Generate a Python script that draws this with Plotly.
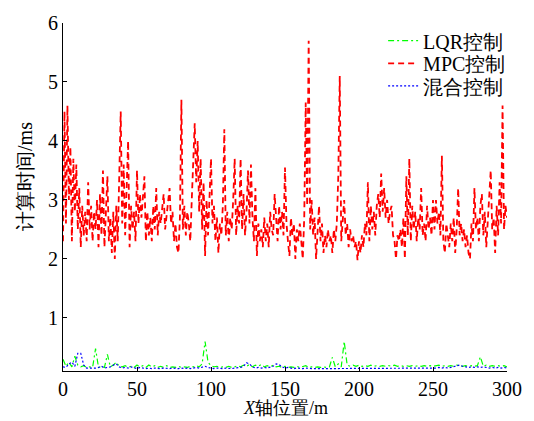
import plotly.graph_objects as go

# MPC control: x = 0..300 step 1 m
mpc_x = list(range(0, 301))
mpc_ms = [
    2.3, 4.5, 2.6, 4.6, 3.0, 3.9, 2.3, 3.7, 2.8, 3.6,
    2.5, 3.2, 2.2, 2.9, 2.4, 2.8, 2.3, 3.3, 2.5, 2.9,
    2.3, 2.8, 2.5, 3.0, 2.2, 3.1, 2.4, 3.5, 2.2, 2.9,
    3.4, 2.3, 2.7, 2.1, 2.8, 2.0, 2.9, 2.3, 3.2, 4.5,
    2.6, 3.6, 2.4, 3.1, 4.0, 2.2, 2.9, 2.5, 2.8, 2.3,
    3.5, 2.6, 3.1, 2.7, 3.0, 3.4, 2.3, 2.8, 2.4, 2.7,
    2.3, 2.9, 2.5, 3.2, 2.4, 2.8, 2.6, 2.9, 3.1, 2.5,
    2.7, 2.9, 3.2, 2.6, 2.8, 2.3, 2.6, 2.2, 2.1, 2.7,
    4.7, 2.5, 2.9, 2.4, 2.8, 2.6, 2.3, 3.0, 3.6, 4.3,
    3.3, 4.0, 2.8, 3.7, 2.5, 3.3, 2.05, 3.0, 2.4, 3.1,
    3.7, 2.6, 2.9, 2.3, 2.7, 2.1, 2.6, 2.4, 2.9, 4.2,
    2.4, 2.8, 2.3, 2.7, 2.5, 3.0, 3.7, 2.4, 2.9, 2.6,
    3.7, 2.5, 3.1, 2.4, 2.8, 3.5, 2.6, 3.6, 2.7, 2.3,
    3.2, 2.05, 2.6, 2.3, 2.5, 2.2, 2.7, 2.3, 2.6, 2.2,
    2.8, 2.5, 2.4, 3.1, 2.7, 2.3, 2.9, 2.5, 2.8, 2.4,
    3.55, 2.6, 2.3, 2.05, 2.7, 2.4, 2.6, 2.0, 2.5, 2.3,
    2.6, 2.2, 2.0, 2.7, 4.65, 2.9, 5.7, 2.5, 3.0, 2.4,
    2.7, 2.0, 2.5, 2.9, 2.3, 2.6, 2.1, 2.4, 2.2, 2.5,
    2.3, 2.4, 2.1, 2.5, 2.3, 2.6, 3.4, 5.1, 2.3, 2.7,
    3.0, 2.4, 2.6, 2.2, 2.5, 2.3, 2.4, 2.2, 2.3, 1.98,
    2.3, 2.1, 2.4, 2.2, 2.6, 2.4, 3.3, 2.3, 2.9, 2.5,
    2.8, 2.4, 2.9, 3.1, 2.7, 3.45, 2.8, 3.2, 2.7, 3.0,
    2.6, 2.8, 2.9, 2.4, 2.3, 2.0, 2.4, 2.3, 2.5, 2.2,
    2.7, 2.0, 3.4, 2.4, 3.7, 2.3, 2.9, 2.5, 2.8, 2.3,
    2.7, 2.5, 3.2, 2.4, 2.6, 2.3, 2.9, 2.5, 2.7, 2.4,
    3.0, 2.5, 3.0, 2.6, 2.8, 2.4, 3.75, 2.3, 2.1, 2.6,
    2.4, 2.2, 2.6, 2.3, 2.7, 2.1, 2.5, 3.2, 2.4, 2.6,
    2.3, 2.5, 2.2, 2.4, 2.1, 2.0, 2.6, 2.3, 3.2, 2.5,
    2.7, 2.3, 2.9, 3.1, 2.4, 2.8, 2.2, 2.6, 2.9, 3.5,
    2.5, 2.7, 2.1, 2.9, 2.4, 3.3, 2.6, 4.6, 2.5, 2.9,
    2.7,
]

# LQR and mixed control: x = 0..300 step 2 m
low_x = list(range(0, 301, 2))
lqr_ms = [
    0.30, 0.18, 0.25, 0.17, 0.35, 0.20, 0.17, 0.19, 0.16, 0.17,
    0.16, 0.48, 0.16, 0.18, 0.16, 0.38, 0.17, 0.20, 0.25, 0.18,
    0.17, 0.19, 0.16, 0.18, 0.16, 0.20, 0.17, 0.19, 0.16, 0.20,
    0.17, 0.19, 0.16, 0.18, 0.16, 0.19, 0.16, 0.17, 0.16, 0.18,
    0.16, 0.17, 0.16, 0.18, 0.17, 0.19, 0.17, 0.22, 0.60, 0.25,
    0.19, 0.17, 0.18, 0.16, 0.17, 0.16, 0.18, 0.16, 0.17, 0.19,
    0.17, 0.20, 0.18, 0.21, 0.17, 0.20, 0.18, 0.21, 0.17, 0.19,
    0.17, 0.20, 0.17, 0.18, 0.16, 0.18, 0.16, 0.17, 0.16, 0.18,
    0.16, 0.17, 0.19, 0.16, 0.17, 0.16, 0.17, 0.16, 0.17, 0.16,
    0.17, 0.33, 0.17, 0.22, 0.17, 0.60, 0.20, 0.18, 0.20, 0.18,
    0.20, 0.18, 0.19, 0.18, 0.20, 0.18, 0.19, 0.18, 0.19, 0.18,
    0.19, 0.18, 0.20, 0.18, 0.19, 0.18, 0.19, 0.18, 0.19, 0.18,
    0.19, 0.18, 0.19, 0.18, 0.19, 0.18, 0.19, 0.20, 0.18, 0.19,
    0.18, 0.19, 0.18, 0.20, 0.19, 0.18, 0.19, 0.18, 0.19, 0.18,
    0.19, 0.34, 0.18, 0.20, 0.18, 0.19, 0.18, 0.19, 0.18, 0.19,
    0.17,
]
mix_ms = [
    0.17, 0.16, 0.22, 0.25, 0.18, 0.40, 0.40, 0.20, 0.15, 0.15,
    0.14, 0.15, 0.16, 0.18, 0.15, 0.16, 0.17, 0.20, 0.22, 0.17,
    0.15, 0.16, 0.15, 0.17, 0.15, 0.14, 0.16, 0.15, 0.14, 0.15,
    0.14, 0.15, 0.14, 0.14, 0.15, 0.14, 0.14, 0.15, 0.14, 0.14,
    0.15, 0.14, 0.15, 0.14, 0.15, 0.16, 0.15, 0.17, 0.18, 0.16,
    0.15, 0.14, 0.15, 0.14, 0.14, 0.15, 0.14, 0.14, 0.15, 0.15,
    0.16, 0.18, 0.24, 0.22, 0.17, 0.15, 0.16, 0.15, 0.16, 0.15,
    0.16, 0.18, 0.22, 0.21, 0.17, 0.15, 0.16, 0.15, 0.14, 0.15,
    0.14, 0.14, 0.15, 0.14, 0.14, 0.14, 0.14, 0.15, 0.14, 0.14,
    0.15, 0.14, 0.15, 0.14, 0.15, 0.14, 0.15, 0.14, 0.14, 0.15,
    0.14, 0.15, 0.14, 0.15, 0.14, 0.15, 0.14, 0.15, 0.14, 0.15,
    0.14, 0.15, 0.14, 0.15, 0.14, 0.15, 0.14, 0.15, 0.14, 0.15,
    0.15, 0.14, 0.15, 0.14, 0.15, 0.14, 0.15, 0.16, 0.15, 0.16,
    0.15, 0.16, 0.17, 0.18, 0.20, 0.18, 0.17, 0.16, 0.17, 0.16,
    0.17, 0.16, 0.17, 0.16, 0.15, 0.16, 0.15, 0.16, 0.15, 0.16,
    0.15,
]

series_names = ["LQR控制", "MPC控制", "混合控制"]
x_ticks = [0, 50, 100, 150, 200, 250, 300]
y_ticks = [1, 2, 3, 4, 5, 6]
x_title = "<i>X</i>轴位置/m"
y_title = "计算时间/ms"

FONT = "Liberation Serif"
W, H = 534, 421
L, R, T, B = 63, 20, 17, 50
PLOT_W = W - L - R
PLOT_H = H - T - B


def px_to_paper_x(px):
    return (px - L) / PLOT_W


def px_to_paper_y(py):
    return 1 - (py - T) / PLOT_H


fig = go.Figure()
fig.add_trace(go.Scatter(x=low_x, y=lqr_ms, mode="lines", name=series_names[0],
                         legend="legend",
                         line=dict(color="#00FF00", width=1.2, dash="6px,3px,2px,3px")))
fig.add_trace(go.Scatter(x=mpc_x, y=mpc_ms, mode="lines", name=series_names[1],
                         legend="legend2",
                         line=dict(color="#FF0000", width=1.8, dash="6px,4px")))
fig.add_trace(go.Scatter(x=low_x, y=mix_ms, mode="lines", name=series_names[2],
                         legend="legend3",
                         line=dict(color="#0000FF", width=1.2, dash="2px,2px")))


def leg(yc_px):
    return dict(x=0.721, y=px_to_paper_y(yc_px), xref="paper", yref="paper",
                xanchor="left", yanchor="middle",
                bgcolor="rgba(0,0,0,0)", borderwidth=0,
                font=dict(family=FONT, size=20, color="black"))


fig.update_layout(
    width=W, height=H,
    margin=dict(l=L, r=R, t=T, b=B),
    paper_bgcolor="white", plot_bgcolor="white",
    font=dict(family=FONT, size=20, color="black"),
    showlegend=True,
    legend=leg(35),
    legend2=leg(58),
    legend3=leg(81),
    annotations=[
        dict(text=x_title, xref="paper", x=0.5, yref="paper", y=px_to_paper_y(420.5),
             xanchor="center", yanchor="bottom", showarrow=False,
             font=dict(family=FONT, size=18, color="black")),
        dict(text=y_title, xref="paper", x=px_to_paper_x(25), yref="paper",
             y=px_to_paper_y(173), xanchor="center", yanchor="middle",
             textangle=-90, showarrow=False,
             font=dict(family=FONT, size=20, color="black")),
    ],
)
fig.update_xaxes(range=[0, 300], tickvals=x_ticks, ticktext=[str(v) for v in x_ticks],
                 ticks="inside", ticklen=4, tickcolor="black", showline=True,
                 linecolor="black", linewidth=1, showgrid=False, zeroline=False,
                 tickfont=dict(family=FONT, size=20))
fig.update_yaxes(range=[0.1, 6], tickvals=y_ticks, ticktext=[str(v) for v in y_ticks],
                 ticks="inside", ticklen=4, tickcolor="black", showline=True,
                 linecolor="black", linewidth=1, showgrid=False, zeroline=False,
                 tickfont=dict(family=FONT, size=20))

fig.write_html("out.html", config={"displayModeBar": False},
               post_script="document.body.style.margin='0';")
